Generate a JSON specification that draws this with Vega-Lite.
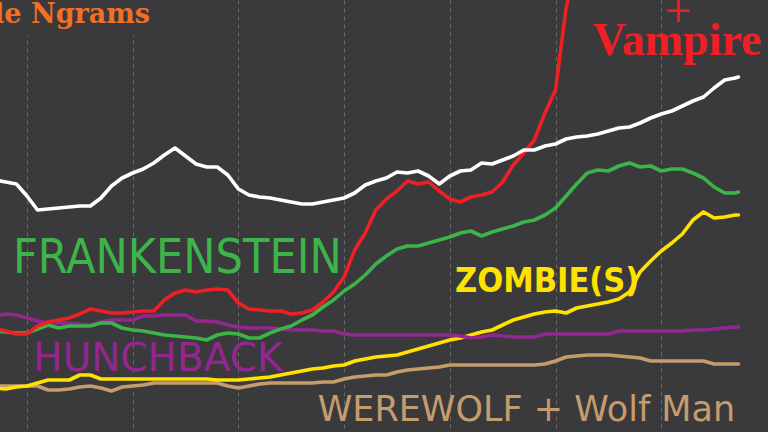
{
  "$schema": "https://vega.github.io/schema/vega-lite/v6.json",
  "width": 768,
  "height": 432,
  "autosize": {"type": "none"},
  "padding": 0,
  "background": "#3a3a3c",
  "config": {
    "view": {"stroke": null},
    "axis": {"domain": false, "ticks": false, "labels": false, "title": null}
  },
  "data": {"values": [{}]},
  "datasets": {
    "ngrams": [
      {"year": 1937, "monster": 252, "dracula": 103, "frankenstein": 101, "zombie": 44, "hunchback": 116, "werewolf": 46},
      {"year": 1938, "monster": 250, "dracula": 101, "frankenstein": 100, "zombie": 43, "hunchback": 118, "werewolf": 46},
      {"year": 1939, "monster": 248, "dracula": 98, "frankenstein": 99, "zombie": 45, "hunchback": 117, "werewolf": 46},
      {"year": 1940, "monster": 236, "dracula": 98, "frankenstein": 99, "zombie": 46, "hunchback": 114, "werewolf": 46},
      {"year": 1941, "monster": 222, "dracula": 106, "frankenstein": 103, "zombie": 49, "hunchback": 111, "werewolf": 46},
      {"year": 1942, "monster": 223, "dracula": 110, "frankenstein": 107, "zombie": 52, "hunchback": 109, "werewolf": 42},
      {"year": 1943, "monster": 224, "dracula": 112, "frankenstein": 104, "zombie": 52, "hunchback": 109, "werewolf": 42},
      {"year": 1944, "monster": 225, "dracula": 114, "frankenstein": 106, "zombie": 52, "hunchback": 109, "werewolf": 43},
      {"year": 1945, "monster": 226, "dracula": 118, "frankenstein": 106, "zombie": 57, "hunchback": 108, "werewolf": 45},
      {"year": 1946, "monster": 226, "dracula": 123, "frankenstein": 106, "zombie": 57, "hunchback": 107, "werewolf": 46},
      {"year": 1947, "monster": 234, "dracula": 121, "frankenstein": 109, "zombie": 53, "hunchback": 110, "werewolf": 44},
      {"year": 1948, "monster": 246, "dracula": 119, "frankenstein": 109, "zombie": 53, "hunchback": 112, "werewolf": 41},
      {"year": 1949, "monster": 254, "dracula": 119, "frankenstein": 104, "zombie": 53, "hunchback": 112, "werewolf": 45},
      {"year": 1950, "monster": 259, "dracula": 120, "frankenstein": 102, "zombie": 53, "hunchback": 112, "werewolf": 46},
      {"year": 1951, "monster": 263, "dracula": 121, "frankenstein": 101, "zombie": 53, "hunchback": 116, "werewolf": 47},
      {"year": 1952, "monster": 269, "dracula": 121, "frankenstein": 99, "zombie": 53, "hunchback": 116, "werewolf": 49},
      {"year": 1953, "monster": 277, "dracula": 132, "frankenstein": 97, "zombie": 53, "hunchback": 117, "werewolf": 49},
      {"year": 1954, "monster": 284, "dracula": 139, "frankenstein": 96, "zombie": 53, "hunchback": 117, "werewolf": 49},
      {"year": 1955, "monster": 276, "dracula": 142, "frankenstein": 95, "zombie": 53, "hunchback": 117, "werewolf": 49},
      {"year": 1956, "monster": 268, "dracula": 140, "frankenstein": 94, "zombie": 53, "hunchback": 111, "werewolf": 49},
      {"year": 1957, "monster": 265, "dracula": 142, "frankenstein": 92, "zombie": 53, "hunchback": 111, "werewolf": 49},
      {"year": 1958, "monster": 265, "dracula": 143, "frankenstein": 97, "zombie": 52, "hunchback": 110, "werewolf": 49},
      {"year": 1959, "monster": 257, "dracula": 142, "frankenstein": 99, "zombie": 52, "hunchback": 107, "werewolf": 46},
      {"year": 1960, "monster": 243, "dracula": 129, "frankenstein": 98, "zombie": 52, "hunchback": 105, "werewolf": 44},
      {"year": 1961, "monster": 237, "dracula": 123, "frankenstein": 94, "zombie": 53, "hunchback": 104, "werewolf": 46},
      {"year": 1962, "monster": 235, "dracula": 122, "frankenstein": 94, "zombie": 54, "hunchback": 104, "werewolf": 48},
      {"year": 1963, "monster": 234, "dracula": 121, "frankenstein": 99, "zombie": 55, "hunchback": 104, "werewolf": 49},
      {"year": 1964, "monster": 232, "dracula": 121, "frankenstein": 103, "zombie": 57, "hunchback": 103, "werewolf": 49},
      {"year": 1965, "monster": 230, "dracula": 118, "frankenstein": 106, "zombie": 59, "hunchback": 102, "werewolf": 49},
      {"year": 1966, "monster": 228, "dracula": 119, "frankenstein": 112, "zombie": 61, "hunchback": 102, "werewolf": 49},
      {"year": 1967, "monster": 228, "dracula": 122, "frankenstein": 117, "zombie": 63, "hunchback": 102, "werewolf": 49},
      {"year": 1968, "monster": 230, "dracula": 130, "frankenstein": 125, "zombie": 64, "hunchback": 101, "werewolf": 50},
      {"year": 1969, "monster": 232, "dracula": 140, "frankenstein": 132, "zombie": 66, "hunchback": 101, "werewolf": 50},
      {"year": 1970, "monster": 234, "dracula": 155, "frankenstein": 141, "zombie": 67, "hunchback": 98, "werewolf": 53},
      {"year": 1971, "monster": 239, "dracula": 182, "frankenstein": 148, "zombie": 71, "hunchback": 97, "werewolf": 55},
      {"year": 1972, "monster": 247, "dracula": 199, "frankenstein": 157, "zombie": 73, "hunchback": 97, "werewolf": 56},
      {"year": 1973, "monster": 251, "dracula": 222, "frankenstein": 168, "zombie": 75, "hunchback": 97, "werewolf": 57},
      {"year": 1974, "monster": 254, "dracula": 233, "frankenstein": 176, "zombie": 76, "hunchback": 97, "werewolf": 57},
      {"year": 1975, "monster": 260, "dracula": 241, "frankenstein": 183, "zombie": 77, "hunchback": 97, "werewolf": 60},
      {"year": 1976, "monster": 259, "dracula": 251, "frankenstein": 186, "zombie": 80, "hunchback": 97, "werewolf": 62},
      {"year": 1977, "monster": 261, "dracula": 248, "frankenstein": 186, "zombie": 83, "hunchback": 97, "werewolf": 63},
      {"year": 1978, "monster": 256, "dracula": 250, "frankenstein": 189, "zombie": 86, "hunchback": 97, "werewolf": 64},
      {"year": 1979, "monster": 248, "dracula": 241, "frankenstein": 192, "zombie": 89, "hunchback": 97, "werewolf": 65},
      {"year": 1980, "monster": 256, "dracula": 233, "frankenstein": 195, "zombie": 92, "hunchback": 97, "werewolf": 67},
      {"year": 1981, "monster": 261, "dracula": 230, "frankenstein": 199, "zombie": 94, "hunchback": 96, "werewolf": 67},
      {"year": 1982, "monster": 262, "dracula": 235, "frankenstein": 201, "zombie": 97, "hunchback": 94, "werewolf": 67},
      {"year": 1983, "monster": 269, "dracula": 237, "frankenstein": 196, "zombie": 100, "hunchback": 95, "werewolf": 67},
      {"year": 1984, "monster": 268, "dracula": 240, "frankenstein": 200, "zombie": 102, "hunchback": 97, "werewolf": 67},
      {"year": 1985, "monster": 272, "dracula": 250, "frankenstein": 203, "zombie": 107, "hunchback": 96, "werewolf": 67},
      {"year": 1986, "monster": 276, "dracula": 267, "frankenstein": 206, "zombie": 112, "hunchback": 95, "werewolf": 67},
      {"year": 1987, "monster": 282, "dracula": 279, "frankenstein": 210, "zombie": 115, "hunchback": 95, "werewolf": 67},
      {"year": 1988, "monster": 282, "dracula": 292, "frankenstein": 212, "zombie": 118, "hunchback": 95, "werewolf": 67},
      {"year": 1989, "monster": 286, "dracula": 319, "frankenstein": 217, "zombie": 120, "hunchback": 98, "werewolf": 68},
      {"year": 1990, "monster": 288, "dracula": 342, "frankenstein": 224, "zombie": 121, "hunchback": 98, "werewolf": 71},
      {"year": 1991, "monster": 293, "dracula": 424, "frankenstein": 236, "zombie": 119, "hunchback": 98, "werewolf": 75},
      {"year": 1992, "monster": 295, "dracula": 470, "frankenstein": 248, "zombie": 124, "hunchback": 98, "werewolf": 76},
      {"year": 1993, "monster": 296, "dracula": 510, "frankenstein": 259, "zombie": 126, "hunchback": 98, "werewolf": 77},
      {"year": 1994, "monster": 298, "dracula": null, "frankenstein": 262, "zombie": 128, "hunchback": 98, "werewolf": 77},
      {"year": 1995, "monster": 301, "dracula": null, "frankenstein": 261, "zombie": 130, "hunchback": 98, "werewolf": 77},
      {"year": 1996, "monster": 304, "dracula": null, "frankenstein": 266, "zombie": 133, "hunchback": 101, "werewolf": 76},
      {"year": 1997, "monster": 305, "dracula": null, "frankenstein": 269, "zombie": 140, "hunchback": 101, "werewolf": 75},
      {"year": 1998, "monster": 309, "dracula": null, "frankenstein": 265, "zombie": 160, "hunchback": 101, "werewolf": 74},
      {"year": 1999, "monster": 314, "dracula": null, "frankenstein": 266, "zombie": 171, "hunchback": 101, "werewolf": 71},
      {"year": 2000, "monster": 318, "dracula": null, "frankenstein": 261, "zombie": 181, "hunchback": 101, "werewolf": 71},
      {"year": 2001, "monster": 321, "dracula": null, "frankenstein": 263, "zombie": 189, "hunchback": 101, "werewolf": 71},
      {"year": 2002, "monster": 326, "dracula": null, "frankenstein": 263, "zombie": 198, "hunchback": 101, "werewolf": 71},
      {"year": 2003, "monster": 331, "dracula": null, "frankenstein": 259, "zombie": 212, "hunchback": 102, "werewolf": 71},
      {"year": 2004, "monster": 335, "dracula": null, "frankenstein": 254, "zombie": 220, "hunchback": 102, "werewolf": 71},
      {"year": 2005, "monster": 344, "dracula": null, "frankenstein": 245, "zombie": 214, "hunchback": 103, "werewolf": 68},
      {"year": 2006, "monster": 352, "dracula": null, "frankenstein": 239, "zombie": 215, "hunchback": 104, "werewolf": 68},
      {"year": 2007, "monster": 354, "dracula": null, "frankenstein": 239, "zombie": 217, "hunchback": 105, "werewolf": 68},
      {"year": 2007.3, "monster": 355, "dracula": null, "frankenstein": 240, "zombie": 217, "hunchback": 105, "werewolf": 68}
    ]
  },
  "layer": [
    {
      "data": {"name": "ngrams"},
      "transform": [
        {"fold": ["werewolf", "zombie", "hunchback", "frankenstein", "dracula", "monster"], "as": ["series", "v"]},
        {"filter": "datum.v != null"}
      ],
      "mark": {"type": "line", "strokeWidth": 3.6, "strokeCap": "round", "strokeJoin": "round", "clip": true},
      "encoding": {
        "x": {
          "field": "year", "type": "quantitative",
          "scale": {"domain": [1937.45, 2010.1], "nice": false, "zero": false},
          "axis": {"values": [1940, 1950, 1960, 1970, 1980, 1990, 2000], "grid": true, "gridColor": "#6a6a6a", "gridDash": [4, 4], "gridWidth": 1}
        },
        "y": {"field": "v", "type": "quantitative", "scale": {"domain": [0, 432], "nice": false, "zero": false}, "axis": null},
        "color": {
          "field": "series", "type": "nominal",
          "scale": {
            "domain": ["werewolf", "zombie", "hunchback", "frankenstein", "dracula", "monster"],
            "range": ["#c69c6d", "#ffe200", "#92278f", "#3cb44a", "#ee1f25", "#ffffff"]
          },
          "legend": null
        }
      }
    },
    {
      "mark": {"type": "rect", "color": "#3a3a3c", "clip": true},
      "encoding": {
        "x": {"datum": 1937.45, "type": "quantitative", "scale": {"domain": [1937.45, 2010.1], "nice": false, "zero": false}},
        "x2": {"datum": 1955},
        "y": {"datum": 397, "type": "quantitative", "scale": {"domain": [0, 432], "nice": false, "zero": false}, "axis": null},
        "y2": {"datum": 432}
      }
    },
    {
      "mark": {"type": "text", "text": "Google Ngrams", "font": "DejaVu Serif", "fontWeight": "bold", "fontSize": 27, "color": "#f36f21", "align": "right", "baseline": "alphabetic"},
      "encoding": {
        "x": {"datum": 1951.64, "type": "quantitative", "scale": {"domain": [1937.45, 2010.1], "nice": false, "zero": false}},
        "y": {"datum": 409, "type": "quantitative", "scale": {"domain": [0, 432], "nice": false, "zero": false}, "axis": null}
      }
    },
    {
      "mark": {"type": "text", "text": "FRANKENSTEIN", "font": "DejaVu Sans Condensed", "fontSize": 48, "color": "#3cb44a", "align": "left", "baseline": "alphabetic"},
      "encoding": {
        "x": {"datum": 1938.68, "type": "quantitative", "scale": {"domain": [1937.45, 2010.1], "nice": false, "zero": false}},
        "y": {"datum": 159, "type": "quantitative", "scale": {"domain": [0, 432], "nice": false, "zero": false}, "axis": null}
      }
    },
    {
      "mark": {"type": "text", "text": "HUNCHBACK", "font": "DejaVu Sans", "fontSize": 39, "color": "#92278f", "align": "left", "baseline": "alphabetic"},
      "encoding": {
        "x": {"datum": 1940.6, "type": "quantitative", "scale": {"domain": [1937.45, 2010.1], "nice": false, "zero": false}},
        "y": {"datum": 61, "type": "quantitative", "scale": {"domain": [0, 432], "nice": false, "zero": false}, "axis": null}
      }
    },
    {
      "mark": {"type": "text", "text": "ZOMBIE(S)", "font": "DejaVu Sans Condensed", "fontWeight": "bold", "fontSize": 34, "color": "#ffe200", "align": "left", "baseline": "alphabetic"},
      "encoding": {
        "x": {"datum": 1980.5, "type": "quantitative", "scale": {"domain": [1937.45, 2010.1], "nice": false, "zero": false}},
        "y": {"datum": 140, "type": "quantitative", "scale": {"domain": [0, 432], "nice": false, "zero": false}, "axis": null}
      }
    },
    {
      "mark": {"type": "text", "text": "WEREWOLF + Wolf Man", "font": "DejaVu Sans", "fontSize": 35, "color": "#c69c6d", "align": "left", "baseline": "alphabetic"},
      "encoding": {
        "x": {"datum": 1967.5, "type": "quantitative", "scale": {"domain": [1937.45, 2010.1], "nice": false, "zero": false}},
        "y": {"datum": 11, "type": "quantitative", "scale": {"domain": [0, 432], "nice": false, "zero": false}, "axis": null}
      }
    },
    {
      "mark": {"type": "text", "text": "Vampire", "font": "Liberation Serif", "fontWeight": "bold", "fontSize": 46, "color": "#ee1f25", "align": "center", "baseline": "alphabetic"},
      "encoding": {
        "x": {"datum": 2001.5, "type": "quantitative", "scale": {"domain": [1937.45, 2010.1], "nice": false, "zero": false}},
        "y": {"datum": 377, "type": "quantitative", "scale": {"domain": [0, 432], "nice": false, "zero": false}, "axis": null}
      }
    },
    {
      "mark": {"type": "text", "text": "+", "font": "Liberation Serif", "fontSize": 48, "color": "#ee1f25", "align": "center", "baseline": "alphabetic"},
      "encoding": {
        "x": {"datum": 2001.6, "type": "quantitative", "scale": {"domain": [1937.45, 2010.1], "nice": false, "zero": false}},
        "y": {"datum": 405, "type": "quantitative", "scale": {"domain": [0, 432], "nice": false, "zero": false}, "axis": null}
      }
    }
  ]
}
